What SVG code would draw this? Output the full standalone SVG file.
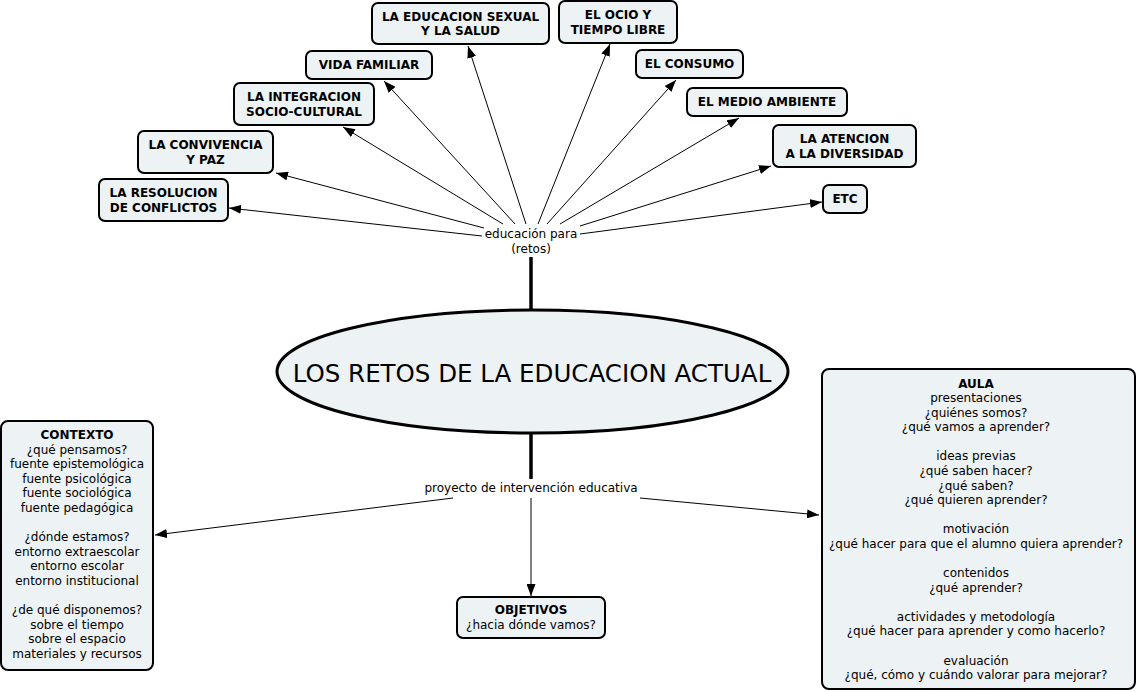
<svg xmlns="http://www.w3.org/2000/svg" width="1137" height="692" viewBox="0 0 1137 692">
<style>
.box{fill:#edf2f4;stroke:#000;stroke-width:2}
.b{font-family:"DejaVu Sans","Verdana",sans-serif;font-size:12px;font-weight:bold;text-anchor:middle;fill:#000}
.t{font-family:"DejaVu Sans","Verdana",sans-serif;font-size:12px;text-anchor:middle;fill:#000}
.ln{stroke:#000;stroke-width:1;fill:none;marker-end:url(#arr)}
.thick{stroke:#000;stroke-width:3.5;fill:none}
</style>
<defs>
<marker id="arr" markerUnits="userSpaceOnUse" markerWidth="12" markerHeight="9" refX="12" refY="4.5" orient="auto">
<path d="M0,0 L12,4.5 L0,9 z" fill="#000"/>
</marker>
</defs>
<rect width="1137" height="692" fill="#fff"/>
<g id="connectors">
<line class="thick" x1="531" y1="257" x2="531" y2="310"/>
<line class="thick" x1="531" y1="433" x2="531" y2="479"/>
<line class="ln" x1="482" y1="236" x2="229" y2="208"/>
<line class="ln" x1="484" y1="228" x2="276" y2="173"/>
<line class="ln" x1="503" y1="224" x2="343" y2="127"/>
<line class="ln" x1="515" y1="224" x2="384" y2="81"/>
<line class="ln" x1="526" y1="224" x2="468" y2="46"/>
<line class="ln" x1="538" y1="224" x2="610" y2="44"/>
<line class="ln" x1="547" y1="224" x2="676" y2="80"/>
<line class="ln" x1="560" y1="224" x2="739" y2="118"/>
<line class="ln" x1="580" y1="226" x2="771" y2="166"/>
<line class="ln" x1="580" y1="234" x2="822" y2="202"/>
<line class="ln" x1="453" y1="498" x2="155" y2="535"/>
<line class="ln" x1="531" y1="498" x2="531" y2="596"/>
<line class="ln" x1="640" y1="498" x2="819" y2="515"/>
<text class="t" x="531" y="238">educación para</text>
<text class="t" x="531" y="252.5">(retos)</text>
<text class="t" x="531" y="492">proyecto de intervención educativa</text>
</g>
<g id="main">
<ellipse cx="532.5" cy="371.5" rx="255.5" ry="61.5" fill="#edf2f4" stroke="#000" stroke-width="3"/>
<text x="532" y="382" font-family="DejaVu Sans, Verdana, sans-serif" font-size="24.5" text-anchor="middle">LOS RETOS DE LA EDUCACION ACTUAL</text>
</g>
<g id="sexual"><rect class="box" x="372" y="3" width="177" height="41" rx="6"/><text class="b" x="460.5" y="20.7">LA EDUCACION SEXUAL</text><text class="b" x="460.5" y="35.3">Y LA SALUD</text></g>
<g id="ocio"><rect class="box" x="559" y="1" width="118" height="42" rx="6"/><text class="b" x="618" y="19">EL OCIO Y</text><text class="b" x="618" y="33.6">TIEMPO LIBRE</text></g>
<g id="vida"><rect class="box" x="306" y="51" width="126" height="28" rx="6"/><text class="b" x="369" y="69">VIDA FAMILIAR</text></g>
<g id="consumo"><rect class="box" x="636" y="50" width="107" height="28" rx="6"/><text class="b" x="689.5" y="68">EL CONSUMO</text></g>
<g id="integracion"><rect class="box" x="234" y="83" width="140" height="42" rx="6"/><text class="b" x="304" y="101">LA INTEGRACION</text><text class="b" x="304" y="115.6">SOCIO-CULTURAL</text></g>
<g id="medio"><rect class="box" x="687" y="88" width="160" height="28" rx="6"/><text class="b" x="767" y="106">EL MEDIO AMBIENTE</text></g>
<g id="convivencia"><rect class="box" x="138" y="131" width="135" height="42" rx="6"/><text class="b" x="205.5" y="149">LA CONVIVENCIA</text><text class="b" x="205.5" y="163.6">Y PAZ</text></g>
<g id="atencion"><rect class="box" x="773" y="125" width="143" height="42" rx="6"/><text class="b" x="844.5" y="143">LA ATENCION</text><text class="b" x="844.5" y="157.6">A LA DIVERSIDAD</text></g>
<g id="resolucion"><rect class="box" x="99" y="179" width="129" height="42" rx="6"/><text class="b" x="163.5" y="197">LA RESOLUCION</text><text class="b" x="163.5" y="211.6">DE CONFLICTOS</text></g>
<g id="etc"><rect class="box" x="823" y="185" width="44" height="28" rx="6"/><text class="b" x="845" y="203">ETC</text></g>
<g id="objetivos"><rect class="box" x="457" y="597" width="148" height="41" rx="6"/><text class="b" x="531" y="614">OBJETIVOS</text><text class="t" x="531" y="628.6">¿hacia dónde vamos?</text></g>
<g id="contexto"><rect class="box" x="1" y="421" width="152" height="249" rx="7"/>
<text class="b" x="77" y="439">CONTEXTO</text>
<text class="t" x="77" y="453.6">¿qué pensamos?</text>
<text class="t" x="77" y="468.2">fuente epistemológica</text>
<text class="t" x="77" y="482.7">fuente psicológica</text>
<text class="t" x="77" y="497.3">fuente sociológica</text>
<text class="t" x="77" y="511.9">fuente pedagógica</text>
<text class="t" x="77" y="541.1">¿dónde estamos?</text>
<text class="t" x="77" y="555.6">entorno extraescolar</text>
<text class="t" x="77" y="570.2">entorno escolar</text>
<text class="t" x="77" y="584.8">entorno institucional</text>
<text class="t" x="77" y="614">¿de qué disponemos?</text>
<text class="t" x="77" y="628.5">sobre el tiempo</text>
<text class="t" x="77" y="643.1">sobre el espacio</text>
<text class="t" x="77" y="657.7">materiales y recursos</text>
</g>
<g id="aula"><rect class="box" x="822" y="369" width="313" height="320" rx="7"/>
<text class="b" x="976" y="387.5">AULA</text>
<text class="t" x="976" y="402.1">presentaciones</text>
<text class="t" x="976" y="416.7">¿quiénes somos?</text>
<text class="t" x="976" y="431.2">¿qué vamos a aprender?</text>
<text class="t" x="976" y="460.4">ideas previas</text>
<text class="t" x="976" y="475">¿qué saben hacer?</text>
<text class="t" x="976" y="489.6">¿qué saben?</text>
<text class="t" x="976" y="504.1">¿qué quieren aprender?</text>
<text class="t" x="976" y="533.3">motivación</text>
<text class="t" x="976" y="547.9">¿qué hacer para que el alumno quiera aprender?</text>
<text class="t" x="976" y="577">contenidos</text>
<text class="t" x="976" y="591.6">¿qué aprender?</text>
<text class="t" x="976" y="620.8">actividades y metodología</text>
<text class="t" x="976" y="635.4">¿qué hacer para aprender y como hacerlo?</text>
<text class="t" x="976" y="664.5">evaluación</text>
<text class="t" x="976" y="679.1">¿qué, cómo y cuándo valorar para mejorar?</text>
</g>
</svg>
